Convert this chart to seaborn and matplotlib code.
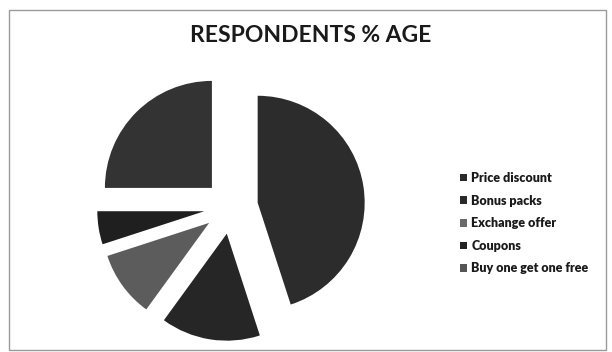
import matplotlib
matplotlib.use("Agg")
import matplotlib.pyplot as plt
from matplotlib.patches import Patch, Rectangle
import seaborn as sns

# Promotion scheme preferences (% of respondents)
schemes = ["Price discount", "Bonus packs", "Exchange offer", "Coupons", "Buy one get one free"]
shares = [45, 15, 10, 5, 25]
shades = ["#2c2c2c", "#262626", "#5c5c5c", "#1f1f1f", "#333333"]
legend_shades = ["#2a2a2a", "#2a2a2a", "#6a6a6a", "#222222", "#555555"]
gap = [0.27] * 5

sns.set_theme(style="white")
plt.rcParams["font.family"] = ["Lato", "DejaVu Sans"]

fig = plt.figure(figsize=(6.12, 3.52), dpi=100)
W, H = 612, 352

# square axes, 100 px per data unit, pie centred at (231, 207) px
side = 260
cx, cy = 231, 207
ax = fig.add_axes([(cx - side / 2) / W, (H - cy - side / 2) / H, side / W, side / H])
ax.pie(shares, colors=shades, startangle=90, counterclock=False,
       explode=gap, radius=1.07, wedgeprops=dict(linewidth=0))
ax.set_xlim(-1.3, 1.3)
ax.set_ylim(-1.3, 1.3)
ax.set_aspect("equal")
ax.axis("off")

fig.text(311 / W, (H - 36) / H, "RESPONDENTS % AGE", ha="center", va="center",
         fontsize=16.5, fontweight="bold", color="#1a1a1a")

handles = [Patch(facecolor=c, edgecolor="none") for c in legend_shades]
fig.legend(handles, schemes, loc="upper left",
           bbox_to_anchor=(460 / W, (H - 172) / H), frameon=False,
           prop=dict(size=9, weight="heavy"), labelcolor="#1a1a1a",
           handlelength=0.55, handleheight=0.55, handletextpad=0.35,
           labelspacing=0.85, borderaxespad=0, borderpad=0)

fig.add_artist(Rectangle((9 / W, 2 / H), 597 / W, (H - 12) / H,
                         transform=fig.transFigure, fill=False,
                         edgecolor="#9a9a9a", linewidth=1))

fig.savefig("out.png", dpi=100, facecolor="white")
